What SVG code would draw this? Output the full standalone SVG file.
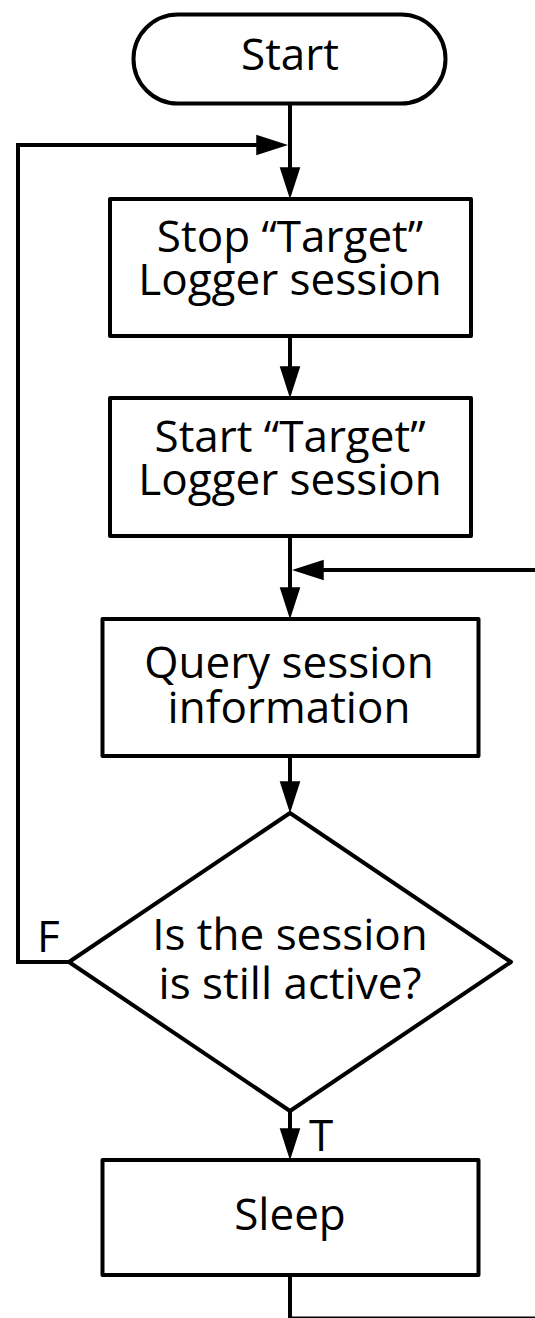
<svg xmlns="http://www.w3.org/2000/svg" width="535" height="1318" viewBox="0 0 535 1318">
<style>
.box{fill:#fff;stroke:#000;stroke-width:4;stroke-linejoin:round}
.ln{fill:none;stroke:#000;stroke-width:4;stroke-linejoin:miter}
.ar{marker-end:url(#ah)}
text{font-family:"Open Sans","Liberation Sans",sans-serif;font-size:44px;fill:#000;text-anchor:middle}
.lbl{text-anchor:start}
</style>
<defs>
<marker id="ah" markerUnits="userSpaceOnUse" markerWidth="32" markerHeight="22" viewBox="0 0 31 20" refX="24" refY="10" orient="auto">
<path d="M0,0 L31,10 L0,20 z" fill="#000"/>
</marker>
</defs>
<g id="connectors">
<line class="ln ar" x1="290" y1="104" x2="290" y2="192"/>
<polyline class="ln ar" points="69,962 18,962 18,145 281,145"/>
<line class="ln ar" x1="290" y1="336" x2="290" y2="391"/>
<line class="ln ar" x1="290" y1="536" x2="290" y2="612"/>
<line class="ln ar" x1="537" y1="570" x2="299" y2="570"/>
<line class="ln ar" x1="290" y1="756" x2="290" y2="806"/>
<line class="ln ar" x1="290" y1="1111" x2="290" y2="1153"/>
<polyline class="ln" points="290,1275 290,1318.5 537,1318.5"/>
</g>
<g id="start">
<rect class="box" x="133.5" y="14.5" width="312" height="89" rx="44.5"/>
<text x="290" y="70">Start</text>
</g>
<g id="stop-target">
<rect class="box" x="110" y="199" width="361" height="137"/>
<text x="290" y="252">Stop “Target”</text>
<text x="290" y="295">Logger session</text>
</g>
<g id="start-target">
<rect class="box" x="110" y="398" width="361" height="138"/>
<text x="290" y="452">Start “Target”</text>
<text x="290" y="495">Logger session</text>
</g>
<g id="query">
<rect class="box" x="102.5" y="619" width="376" height="137"/>
<text x="289" y="678">Query session</text>
<text x="289" y="723">information</text>
</g>
<g id="decision">
<polygon class="box" points="290,813 511,962 290,1111 69,962"/>
<text x="290" y="950">Is the session</text>
<text x="290" y="999">is still active?</text>
<text class="lbl" x="37" y="952">F</text>
<text class="lbl" x="309" y="1151">T</text>
</g>
<g id="sleep">
<rect class="box" x="102.5" y="1160" width="376" height="115"/>
<text x="290" y="1230">Sleep</text>
</g>
</svg>
